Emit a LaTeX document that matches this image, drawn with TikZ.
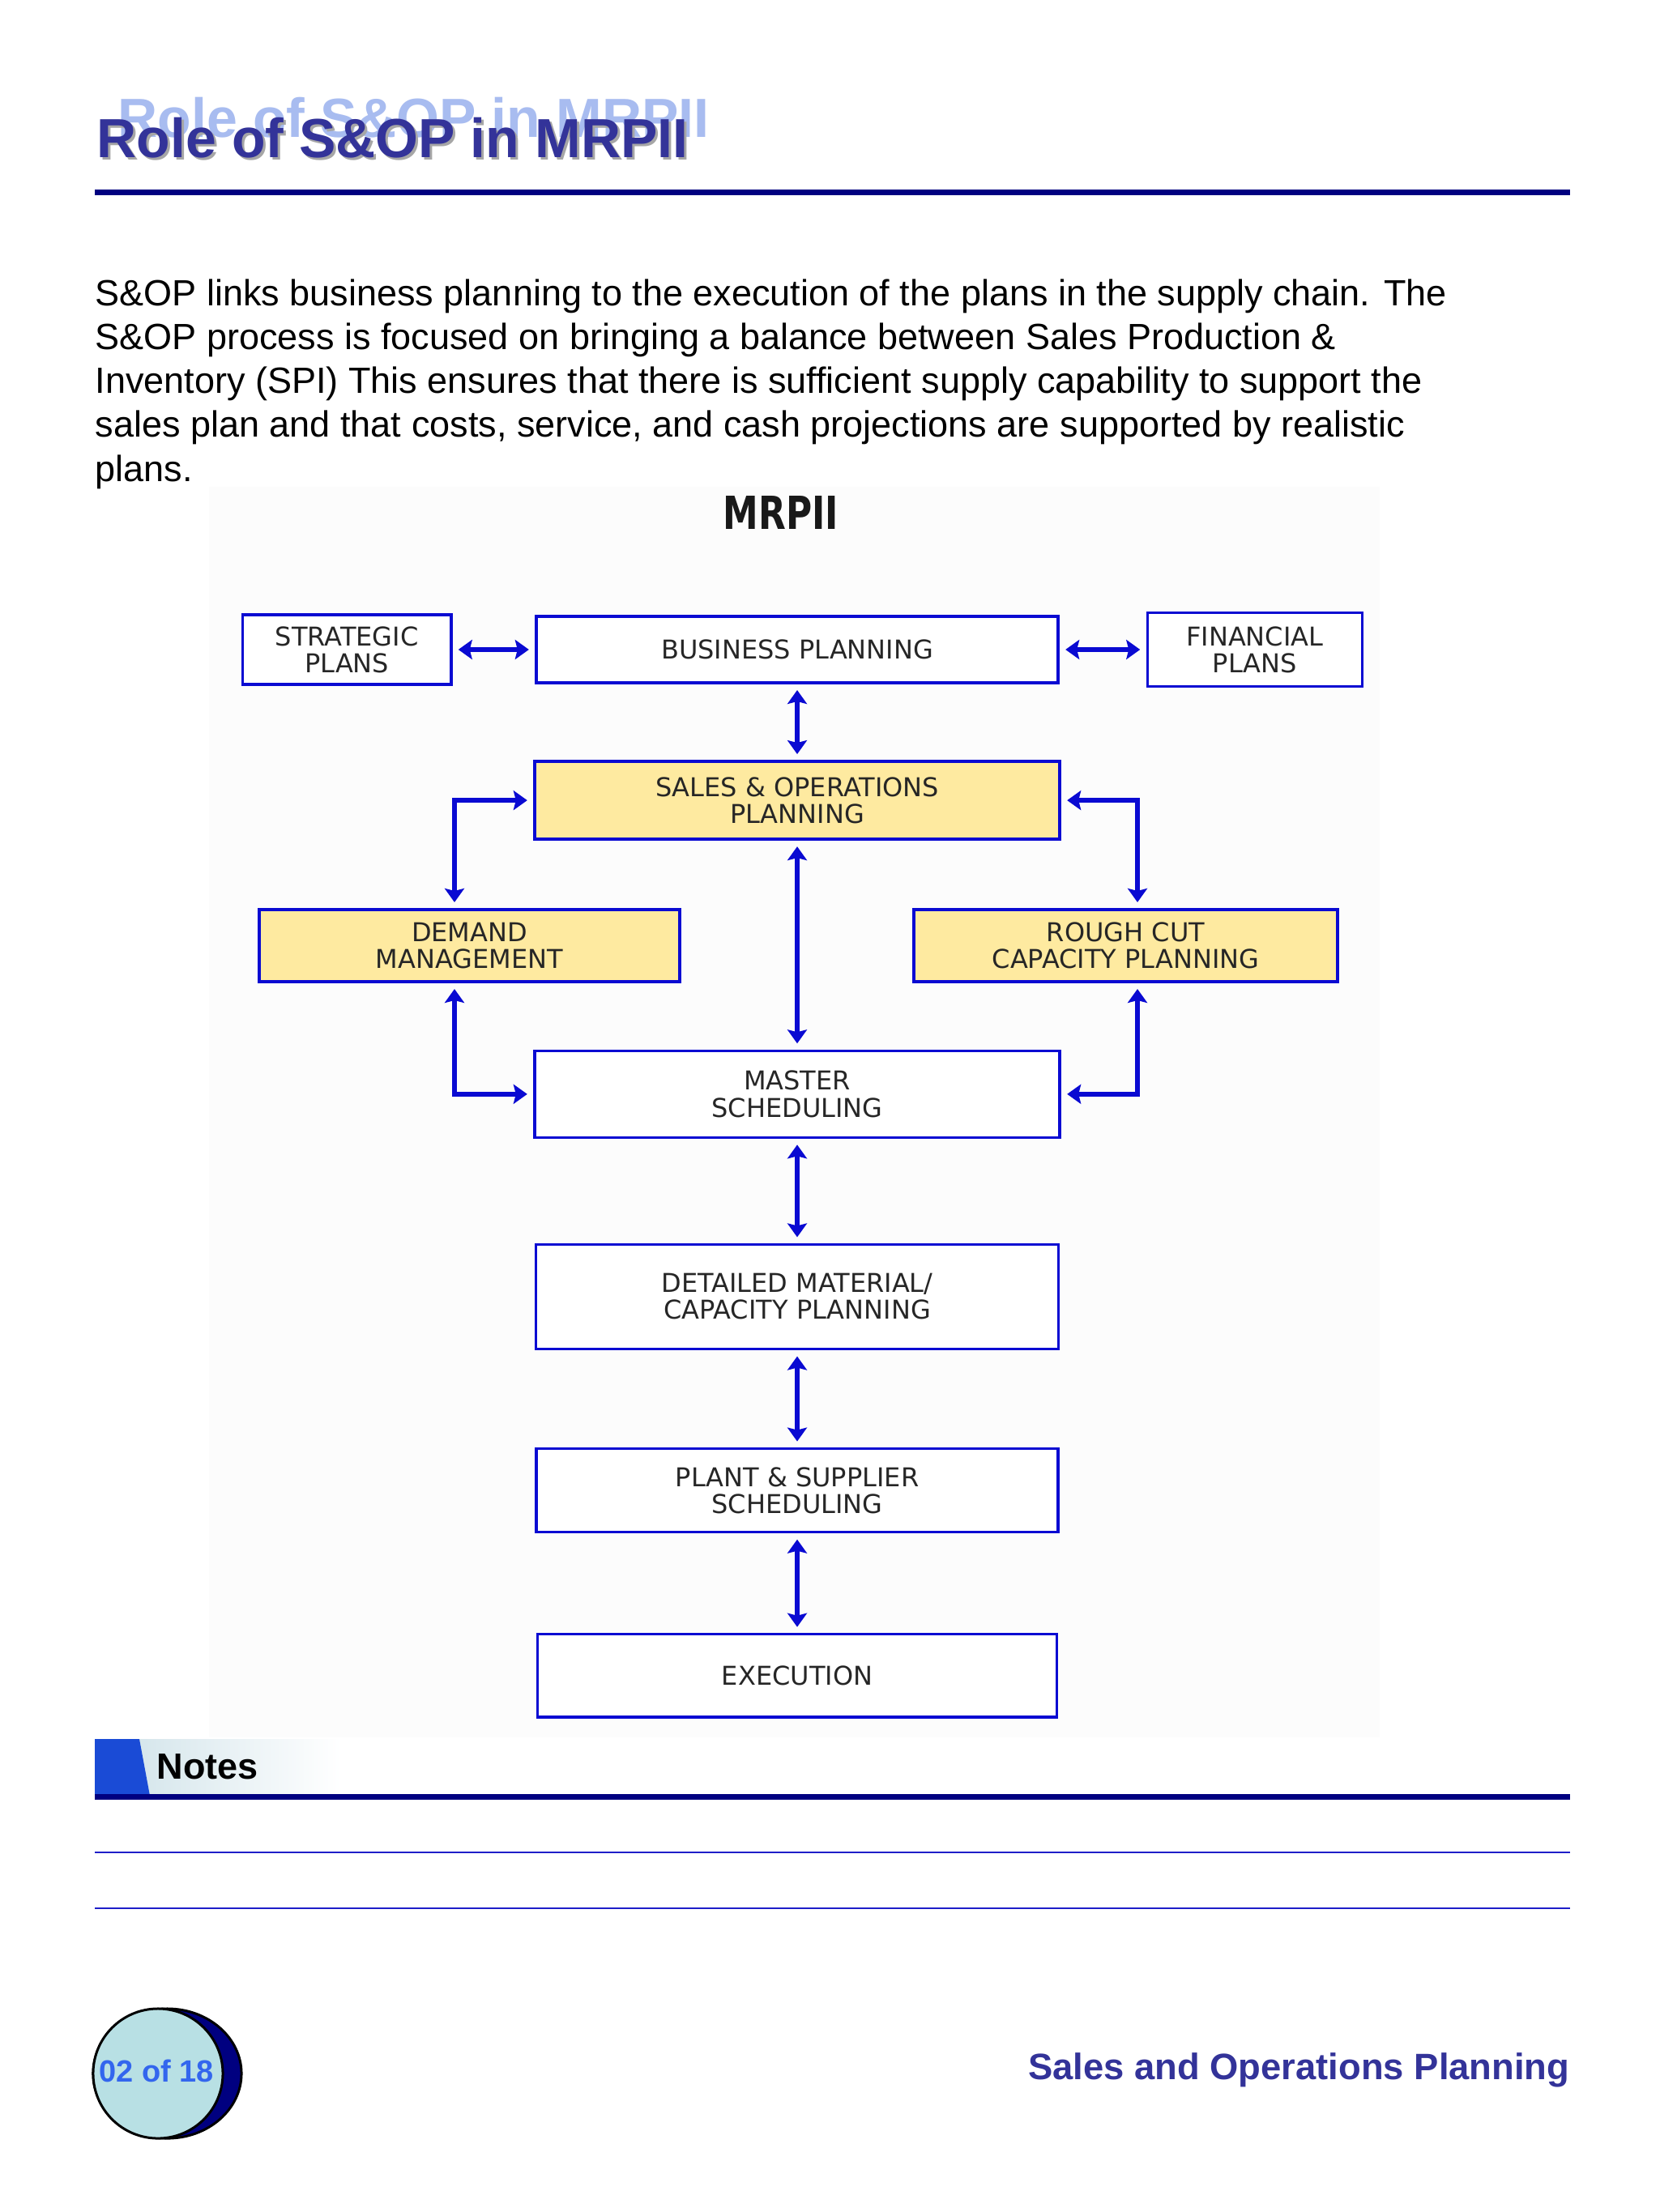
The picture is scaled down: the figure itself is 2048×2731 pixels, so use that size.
\documentclass[tikz,border=0pt]{standalone}
\usepackage{fontspec}
\setmainfont{Liberation Sans}
\newfontfamily\boxfont{DejaVu Sans}
\usetikzlibrary{arrows.meta,positioning}
\definecolor{navy}{HTML}{000080}
\definecolor{titleblue}{HTML}{333399}
\definecolor{ghost}{HTML}{A8BCF0}
\definecolor{boxblue}{HTML}{0A0AD2}
\definecolor{sopyellow}{HTML}{FEEAA0}
\definecolor{notesblue}{HTML}{1A4BD6}
\definecolor{notesfade}{HTML}{CDE1E8}
\definecolor{ruleblue}{HTML}{1E1EC8}
\definecolor{pagecyan}{HTML}{B8E0E4}
\definecolor{pagetext}{HTML}{3366EE}
\tikzset{
    %Define standard arrow tip
    >={Stealth[length=0.17cm,width=0.24cm,inset=0.03cm]},
    %Define style for boxes
    plan/.style={
           rectangle,
           draw=boxblue, line width=0.035cm,
           fill=white,
           inner sep=0pt,
           outer sep=0pt,
           font=\boxfont\fontsize{9.1pt}{9.4pt}\selectfont,
           text=black!85,
           align=center},
    keyplan/.style={
           plan,
           fill=sopyellow},
    % Define arrow style
    link/.style={
           <->,
           draw=boxblue,
           line width=0.055cm,
           shorten <=0.09cm,
           shorten >=0.09cm},
    headline/.style={
           anchor=base west,
           font=\bfseries\fontsize{19.35pt}{23pt}\selectfont}
}

\begin{document}
\begin{tikzpicture}[x=0.01cm,y=-0.01cm,inner sep=0pt]
\useasboundingbox (0,0) rectangle (2048,2731);
\fill[white] (0,0) rectangle (2048,2731);
% title
\node[headline, text=ghost] (ghosttitle) at (145,170) {Role of S\&OP in MRPII};
\node[headline, text=black!35] (shadowtitle) at (122,198) {Role of S\&OP in MRPII};
\node[headline, text=titleblue] (title) at (119,195) {Role of S\&OP in MRPII};
\draw[navy, line width=0.07cm] (117,238) -- (1938,238);
% text
\foreach \txt [count=\i] in {{S\&OP links business planning to the execution of the plans in the supply chain. The},
    {S\&OP process is focused on bringing a balance between Sales Production \&},
    {Inventory (SPI) This ensures that there is sufficient supply capability to support the},
    {sales plan and that costs, service, and cash projections are supported by realistic},
    {plans.}}
  \node[anchor=base west, font=\fontsize{12.8pt}{15.4pt}\selectfont] (para\i) at (117,{378+54*(\i-1)}) {\txt};
% diagram
\fill[black!1] (258,601) rectangle (1703,2145);
\node[anchor=base, font=\boxfont\bfseries\fontsize{16pt}{19pt}\selectfont, text=black!90] (mrp) at (964,653) {\scalebox{0.78}[1]{MRPII}};
\node[plan, minimum width=6.44cm, minimum height=0.82cm] (BP) at (984,802) {BUSINESS PLANNING};
\node[plan, minimum width=2.57cm, minimum height=0.86cm, left=1.05cm of BP] (SP) {STRATEGIC\\PLANS};
\node[plan, minimum width=2.65cm, minimum height=0.91cm, right=1.1cm of BP] (FP) {FINANCIAL\\PLANS};
\node[keyplan, minimum width=6.48cm, minimum height=0.96cm, below=0.97cm of BP] (SOP) {SALES \& OPERATIONS\\PLANNING};
\node[keyplan, minimum width=5.19cm, minimum height=0.89cm] (DM) at (579.5,1167.5) {DEMAND\\MANAGEMENT};
\node[keyplan, minimum width=5.23cm, minimum height=0.89cm] (RC) at (1389.5,1167.5) {ROUGH CUT\\CAPACITY PLANNING};
\node[plan, minimum width=6.48cm, minimum height=1.07cm, below=2.61cm of SOP] (MS) {MASTER\\SCHEDULING};
\node[plan, minimum width=6.45cm, minimum height=1.29cm, below=1.32cm of MS] (DMC) {DETAILED MATERIAL/\\CAPACITY PLANNING};
\node[plan, minimum width=6.44cm, minimum height=1.03cm, below=1.23cm of DMC] (PS) {PLANT \& SUPPLIER\\SCHEDULING};
\node[plan, minimum width=6.41cm, minimum height=1.02cm, below=1.26cm of PS] (EX) {EXECUTION};
\path
	(SP) edge[link] (BP)
	(BP) edge[link] (FP)
	(BP) edge[link] (SOP)
	(SOP) edge[link] (MS)
	(MS) edge[link] (DMC)
	(DMC) edge[link] (PS)
	(PS) edge[link] (EX);
\draw[link] (SOP.west) -| ([xshift=-0.185cm]DM.north);
\draw[link] (SOP.east) -| ([xshift=0.145cm]RC.north);
\draw[link] ([xshift=-0.185cm]DM.south) |- (MS.west);
\draw[link] ([xshift=0.145cm]RC.south) |- (MS.east);
% notes
\shade[left color=notesfade, right color=white] (117,2147) rectangle (420,2217);
\fill[notesblue] (117,2147) -- (172,2147) -- (185,2217) -- (117,2217) -- cycle;
\draw[navy, line width=0.07cm] (117,2218) -- (1938,2218);
\node[anchor=base west, font=\bfseries\fontsize{12.8pt}{15pt}\selectfont] (notes) at (193,2196) {Notes};
\draw[ruleblue, line width=0.025cm] (117,2287) -- (1938,2287);
\draw[ruleblue, line width=0.025cm] (117,2356) -- (1938,2356);
% footer
\draw[fill=navy, line width=0.03cm] (206.5,2560) ellipse [x radius=0.915cm, y radius=0.8cm];
\draw[fill=pagecyan, line width=0.03cm] (195,2560) circle [radius=0.8cm];
\node[anchor=base, font=\bfseries\fontsize{10.8pt}{13pt}\selectfont, text=pagetext] (page) at (193,2570) {02 of 18};
\node[anchor=base east, text=titleblue, font=\bfseries\fontsize{12.9pt}{15pt}\selectfont] (footer) at (1938,2567) {Sales and Operations Planning};
\end{tikzpicture}
\end{document}
